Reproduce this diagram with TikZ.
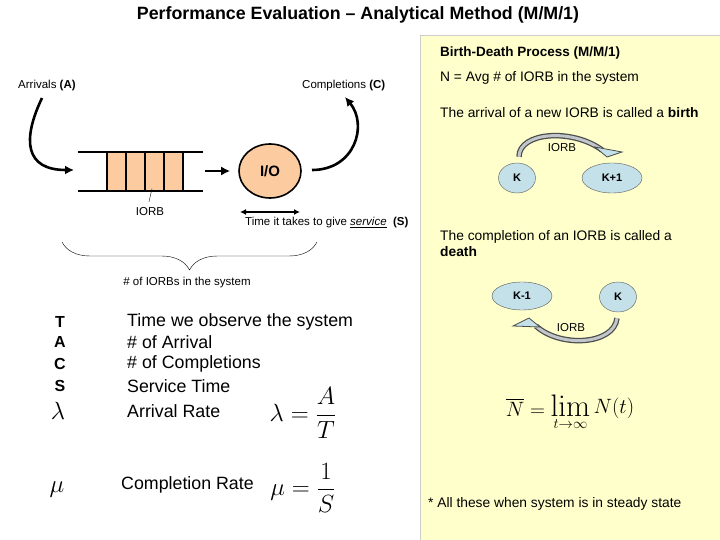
\documentclass[tikz,border=0pt]{standalone}
\usepackage{amsmath}
\usepackage{graphicx}
\usepackage[no-math]{fontspec}
\setmainfont{Liberation Sans}
\usetikzlibrary{arrows.meta,positioning,calc,shapes.geometric,decorations.pathreplacing}

\definecolor{peach}{RGB}{252,204,160}
\definecolor{panelyellow}{RGB}{255,255,204}
\definecolor{statefill}{RGB}{196,224,232}
\definecolor{bandgray}{RGB}{150,160,165}

\tikzset{
  flow/.style={line width=2.6pt, -{Latex[length=9pt,width=9pt]}},
  queueline/.style={line width=1.6pt},
  slot/.style={draw, line width=1.4pt, fill=peach},
  server/.style={ellipse, draw, line width=1.6pt, fill=peach, minimum width=62pt,
    minimum height=54pt, inner sep=0pt, font=\fontsize{15}{18}\selectfont\bfseries},
  state/.style={ellipse, draw=gray!70!black, fill=statefill, minimum height=30pt,
    inner sep=0pt, font=\fontsize{11}{13}\selectfont\bfseries},
  small/.style={font=\fontsize{11.5}{14}\selectfont, inner sep=0pt},
  panel/.style={font=\fontsize{13.8}{16}\selectfont, anchor=west, inner sep=0pt},
  big/.style={font=\fontsize{17.8}{21}\selectfont, anchor=west, inner sep=0pt},
  bandout/.style={line width=5.5pt, draw=gray!60!black},
  bandin/.style={line width=3pt, draw=bandgray!60},
  bandhead/.style={fill=statefill, draw=gray!60!black, line width=0.8pt},
}

\begin{document}
\begin{tikzpicture}[x=1pt, y=-1pt]
    % Canvas and panel
    \useasboundingbox (0,0) rectangle (720,540);
    \fill[white] (0,0) rectangle (720,540);
    \fill[panelyellow] (420,35) rectangle (720,540);
    \draw[gray!40] (420,540) -- (420,35) -- (720,35);

    % Title
    \node[font=\fontsize{17.8}{21}\selectfont\bfseries] (title) at (358,15)
        {Performance Evaluation – Analytical Method (M/M/1)};

    % Queue
    \foreach \i in {0,...,3}
        \draw[slot] (107+19*\i,152) rectangle ++(19,39);
    \draw[queueline] (78,152) -- (203,152);
    \draw[queueline] (78,191) -- (203,191);
    \coordinate (qin) at (74,170);
    \coordinate (qout) at (205,171);

    % Server
    \node[server] (io) at (270,171) {I/O};
    \draw[flow, shorten >=8pt] (qout) -- (io);

    % Arrivals and completions
    \node[small, anchor=west] (arr) at (18,86) {Arrivals \textbf{(A)}};
    \node[small, anchor=west] (comp) at (302,86) {Completions \textbf{(C)}};
    \coordinate (arrstart) at (42,98);
    \draw[flow] (arrstart) .. controls (22,140) and (25,170) .. (qin);
    \coordinate (ioout) at (312,170);
    \coordinate (compend) at (345,97);
    \draw[flow] (ioout) .. controls (355,170) and (368,125) .. (compend);

    % IORB pointer
    \node[small] (iorbq) at (150,212) {IORB};
    \draw (iorbq.north) ++(-1,-6) -- ++(3,-13);

    % Service time
    \coordinate (sl) at (240,212);
    \coordinate (sr) at (300,212);
    \draw[line width=1.3pt, {Latex[length=6pt,width=6pt]}-{Latex[length=6pt,width=6pt]}] (sl) -- (sr);
    \node[small, anchor=west] (svc) at (245,223)
        {Time it takes to give \underline{\textit{service}}\ \ \textbf{(S)}};

    % Number in system
    \draw[decorate, decoration={brace, mirror, amplitude=28pt}] (62,242) -- (317,242);
    \node[small] (nsys) at (187,283) {\# of IORBs in the system};

    % Notation
    \foreach \sym/\y in {T/322, A/342, C/364, S/386}
        \node[font=\fontsize{16}{18}\selectfont\bfseries] (sym\sym) at (60,\y) {\sym};
    \node[font=\fontsize{24}{28}\selectfont] (symlam) at (58,411) {$\lambda$};
    \node[font=\fontsize{24}{28}\selectfont] (symmu) at (57,490) {$\mu$};
    \foreach \txt/\y [count=\n] in {Time we observe the system/322, \# of Arrival/342,
        \# of Completions/364, Service Time/386, Arrival Rate/411}
        \node[big] (desc\n) at (127,\y) {\txt};
    \node[big] (desc6) at (121,485) {Completion Rate};
    \node[font=\fontsize{23}{27}\selectfont] (lamdef) at (303,413) {$\displaystyle\lambda=\frac{A}{T}$};
    \node[font=\fontsize{23}{27}\selectfont] (mudef) at (303,488) {$\displaystyle\mu=\frac{1}{S}$};

    % Birth-death process
    \node[panel, font=\fontsize{13.5}{16}\selectfont\bfseries] (bdtitle) at (440,53) {Birth-Death Process (M/M/1)};
    \node[panel] (navg) at (440,78) {N = Avg \# of IORB in the system};
    \node[panel] (birth) at (440,113) {The arrival of a new IORB is called a \textbf{birth}};
    \node[state, minimum width=37pt] (kb) at (517,178) {K};
    \node[state, minimum width=60pt] (kb1) at (612,178) {K+1};
    \node[panel, align=left] (death) at (440,244) {The completion of an IORB is called a\\\textbf{death}};
    \node[state, minimum width=60pt, minimum height=28pt] (kd1) at (522,296) {K-1};
    \node[state, minimum width=37pt] (kd) at (618,297) {K};

    % Birth arrow
    \coordinate (bstart) at ($(kb.north)+(2,-6)$);
    \coordinate (bend) at (602,150);
    \draw[bandout] (bstart) .. controls (519,132) and (572,128) .. (bend);
    \draw[bandin] (bstart) .. controls (519,132) and (572,128) .. (bend);
    \filldraw[bandhead] (595,147) -- (622,152) -- (607,157) -- cycle;
    \node[small] (iorbb) at (562,148) {IORB};

    % Death arrow
    \coordinate (dstart) at ($(kd.south)+(-1,6)$);
    \coordinate (dend) at (536,326);
    \draw[bandout] (dstart) .. controls (614,345) and (560,348) .. (dend);
    \draw[bandin] (dstart) .. controls (614,345) and (560,348) .. (dend);
    \filldraw[bandhead] (513,326) -- (529,318) -- (540,327) -- cycle;
    \node[small] (iorbd) at (571,328) {IORB};

    % Steady state
    \node[font=\fontsize{20}{24}\selectfont] (nbar) at (570,413)
        {$\overline{N}=\mathop{\scalebox{1.5}{$\mathrm{lim}$}}\limits_{t\to\infty}\raisebox{3pt}{$N(t)$}$};
    \node[panel] (note) at (428,504) {* All these when system is in steady state};
\end{tikzpicture}
\end{document}
